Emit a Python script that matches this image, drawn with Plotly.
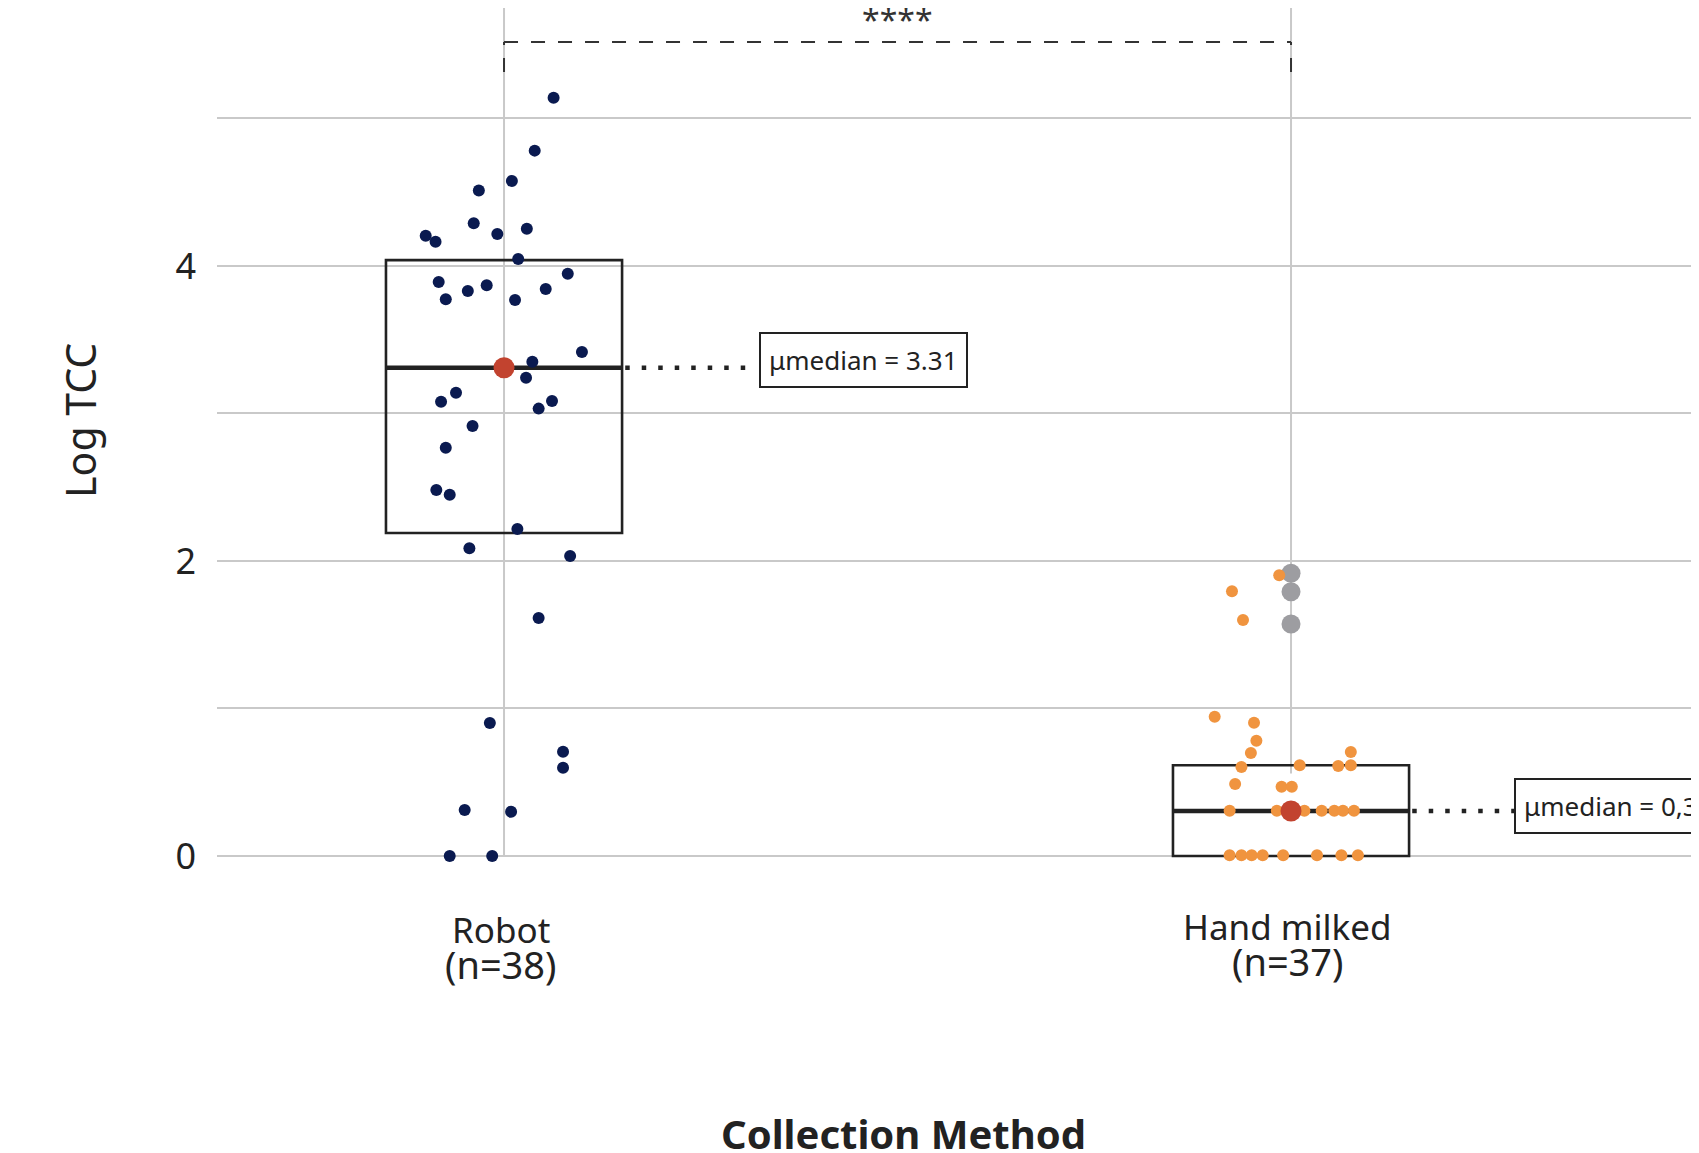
import plotly.graph_objects as go

# ---------------- data ----------------
categories = ["Robot", "Hand milked"]
n_labels = ["(n=38)", "(n=37)"]
cat_pos = [1, 2]

robot_values = [5.141, 4.782, 4.576, 4.511, 4.289, 4.205, 4.165, 4.217, 4.253, 4.047,
                3.948, 3.892, 3.774, 3.831, 3.869, 3.769, 3.844, 3.417, 3.351, 3.243,
                3.141, 3.080, 3.085, 3.033, 2.915, 2.768, 2.481, 2.449, 2.217, 2.086,
                2.034, 1.614, 0.902, 0.707, 0.599, 0.312, 0.300, 0.0, 0.0]
robot_jitter = [0.063, 0.039, 0.010, -0.032, -0.0385, -0.0995, -0.087, -0.0085, 0.029, 0.018,
                0.081, -0.083, -0.074, -0.046, -0.022, 0.014, 0.053, 0.099, 0.036, 0.028,
                -0.061, -0.080, 0.061, 0.044, -0.040, -0.074, -0.086, -0.069, 0.017, -0.044,
                0.084, 0.044, -0.018, 0.075, 0.075, -0.050, 0.009, -0.069, -0.015]

hand_values = [1.903, 1.795, 1.600, 0.944, 0.904, 0.782, 0.698, 0.705, 0.603, 0.615,
               0.610, 0.615, 0.488, 0.470, 0.470,
               0.307, 0.307, 0.307, 0.307, 0.307, 0.307, 0.307,
               0.005, 0.005, 0.005, 0.005, 0.005, 0.005, 0.005, 0.005]
hand_jitter = [-0.015, -0.075, -0.061, -0.097, -0.047, -0.044, -0.051, 0.076, -0.063, 0.011,
               0.060, 0.076, -0.071, -0.012, 0.001,
               -0.078, -0.018, 0.017, 0.039, 0.055, 0.066, 0.080,
               -0.078, -0.063, -0.050, -0.036, -0.010, 0.033, 0.064, 0.085]
hand_outliers = [1.917, 1.792, 1.573]

box_q1 = [2.19, 0.0]
box_median = [3.31, 0.305]
box_q3 = [4.04, 0.615]
median_text = ["μmedian = 3.31", "μmedian = 0,30"]
signif_text = "****"

y_tickvals = [0, 1, 2, 3, 4, 5]
y_ticktext = ["0", "", "2", "", "4", ""]

# ---------------- styles ----------------
NAVY = "#0a1a50"
ORANGE = "#f0943f"
GREY = "#9d9da1"
RED = "#c2432f"
INK = "#222222"
GRID = "#c9c9c9"
FONT = "Noto Sans"

X_RANGE = [0.6353, 2.5184]
Y_RANGE = [-2.0136, 5.749]
BOX_HALF = 0.15

fig = go.Figure()

# outliers (drawn first, under jittered points)
fig.add_trace(go.Scatter(x=[cat_pos[1]] * len(hand_outliers), y=hand_outliers, mode="markers",
                         marker=dict(size=19, color=GREY), hoverinfo="skip"))
# jittered points
fig.add_trace(go.Scatter(x=[cat_pos[0] + j for j in robot_jitter], y=robot_values, mode="markers",
                         marker=dict(size=12, color=NAVY), hoverinfo="skip"))
fig.add_trace(go.Scatter(x=[cat_pos[1] + j for j in hand_jitter], y=hand_values, mode="markers",
                         marker=dict(size=12, color=ORANGE), hoverinfo="skip"))
# medians
fig.add_trace(go.Scatter(x=cat_pos, y=box_median, mode="markers",
                         marker=dict(size=21, color=RED), hoverinfo="skip"))

shapes = []
# vertical reference lines
vline_bottom = [0.0, 0.56]
for xc, yb in zip(cat_pos, vline_bottom):
    shapes.append(dict(type="line", xref="x", yref="y", x0=xc, x1=xc, y0=yb, y1=Y_RANGE[1],
                       line=dict(color=GRID, width=2), layer="below"))
# boxes and median lines
for xc, q1, md, q3 in zip(cat_pos, box_q1, box_median, box_q3):
    shapes.append(dict(type="rect", xref="x", yref="y", x0=xc - BOX_HALF, x1=xc + BOX_HALF,
                       y0=q1, y1=q3, line=dict(color=INK, width=2.6), fillcolor="rgba(0,0,0,0)",
                       layer="between"))
    shapes.append(dict(type="line", xref="x", yref="y", x0=xc - BOX_HALF, x1=xc + BOX_HALF,
                       y0=md, y1=md, line=dict(color=INK, width=4.5), layer="between"))
# dotted leaders to the median labels
leader_end = [1.312, 2.2834]
label_x = [1.3244, 2.2834]
label_shift = [7.5, 5]
for xc, md, xe in zip(cat_pos, box_median, leader_end):
    shapes.append(dict(type="line", xref="x", yref="y", x0=xc + BOX_HALF + 0.004, x1=xe,
                       y0=md, y1=md, line=dict(color=INK, width=4.5, dash="4.5px,12px")))
# significance bracket
br_top, br_bot = 5.519, 5.315
for x0, x1, y0, y1 in [(1, 2, br_top, br_top), (1, 1, br_bot, br_top), (2, 2, br_bot, br_top)]:
    shapes.append(dict(type="line", xref="x", yref="y", x0=x0, x1=x1, y0=y0, y1=y1,
                       line=dict(color="#333333", width=2, dash="14px,13px")))

annotations = []
for xl, md, txt, ys in zip(label_x, box_median, median_text, label_shift):
    annotations.append(dict(x=xl, y=md, xref="x", yref="y", text=txt, showarrow=False,
                            xanchor="left", yanchor="middle", yshift=ys,
                            font=dict(family=FONT, size=26, color=INK),
                            bgcolor="white", bordercolor=INK, borderwidth=2, borderpad=8))
annotations.append(dict(x=1.5, y=5.70, xref="x", yref="y", text=signif_text, showarrow=False,
                        yshift=-4, font=dict(family=FONT, size=32, color="#333333")))
cat_y = [-0.50, -0.478]
n_y = [-0.735, -0.713]
for xc, c, nl, cy, ny in zip(cat_pos, categories, n_labels, cat_y, n_y):
    annotations.append(dict(x=xc - 0.004, y=cy, xref="x", yref="y", text=c, showarrow=False,
                            font=dict(family=FONT, size=35, color=INK)))
    annotations.append(dict(x=xc - 0.004, y=ny, xref="x", yref="y", text=nl, showarrow=False,
                            font=dict(family=FONT, size=38, color=INK)))
annotations.append(dict(x=-0.0925, y=2.956, xref="paper", yref="y", text="Log TCC",
                        textangle=-90, showarrow=False, xanchor="center", yanchor="middle",
                        font=dict(family=FONT, size=41, color=INK)))
annotations.append(dict(x=1.507, y=-1.88, xref="x", yref="y", text="<b>Collection Method</b>",
                        showarrow=False, font=dict(family=FONT, size=40, color=INK)))

fig.update_layout(
    width=1691, height=1145,
    margin=dict(l=209, r=0, t=0, b=0),
    paper_bgcolor="white", plot_bgcolor="white",
    showlegend=False,
    shapes=shapes, annotations=annotations,
    xaxis=dict(range=X_RANGE, showgrid=False, zeroline=False, showticklabels=False,
               showline=False, ticks=""),
    yaxis=dict(range=Y_RANGE, tickvals=y_tickvals, ticktext=y_ticktext, showgrid=True,
               gridcolor=GRID, gridwidth=2, zeroline=False, showline=False, ticks="",
               ticklabelstandoff=20,
               tickfont=dict(family=FONT, size=36, color=INK)),
)

fig.write_html("out.html")
